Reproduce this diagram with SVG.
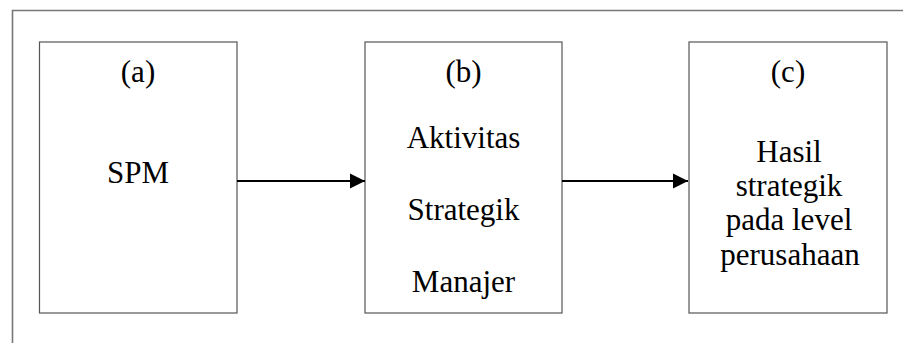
<svg xmlns="http://www.w3.org/2000/svg" width="903" height="343" viewBox="0 0 903 343">
  <defs>
    <style>
      .box { fill: #ffffff; stroke: #555555; stroke-width: 1.2; }
      .lbl { font-family: "Liberation Serif", "Times New Roman", serif; font-size: 31px; fill: #000000; text-anchor: middle; }
      .conn { stroke: #000000; stroke-width: 2.2; fill: none; }
    </style>
    <marker id="arrow" markerUnits="userSpaceOnUse" markerWidth="16" markerHeight="16" refX="15" refY="8" orient="auto">
      <path d="M0,0.5 L15,8 L0,15.5 Z" fill="#000000"/>
    </marker>
  </defs>
  <rect x="0" y="0" width="903" height="343" fill="#ffffff"/>
  <path d="M12.5,343 L12.5,10.5 L903,10.5" fill="none" stroke="#777777" stroke-width="1.6"/>

  <g id="node-a">
    <rect class="box" x="39.5" y="42" width="197.5" height="271"/>
    <text class="lbl" x="138" y="82">(a)</text>
    <text class="lbl" x="138" y="183">SPM</text>
  </g>

  <g id="node-b">
    <rect class="box" x="365" y="42" width="197" height="271"/>
    <text class="lbl" x="463.5" y="82">(b)</text>
    <text class="lbl" x="463.5" y="148">Aktivitas</text>
    <text class="lbl" x="463.5" y="220">Strategik</text>
    <text class="lbl" x="463.5" y="292">Manajer</text>
  </g>

  <g id="node-c">
    <rect class="box" x="689" y="42" width="198" height="271"/>
    <text class="lbl" x="788" y="82">(c)</text>
    <text class="lbl" x="789" y="162">Hasil</text>
    <text class="lbl" x="789" y="196">strategik</text>
    <text class="lbl" x="789" y="230">pada level</text>
    <text class="lbl" x="790" y="265">perusahaan</text>
  </g>

  <g id="connectors">
    <line class="conn" x1="237" y1="181" x2="365" y2="181" marker-end="url(#arrow)"/>
    <line class="conn" x1="562" y1="181" x2="688" y2="181" marker-end="url(#arrow)"/>
  </g>
</svg>
